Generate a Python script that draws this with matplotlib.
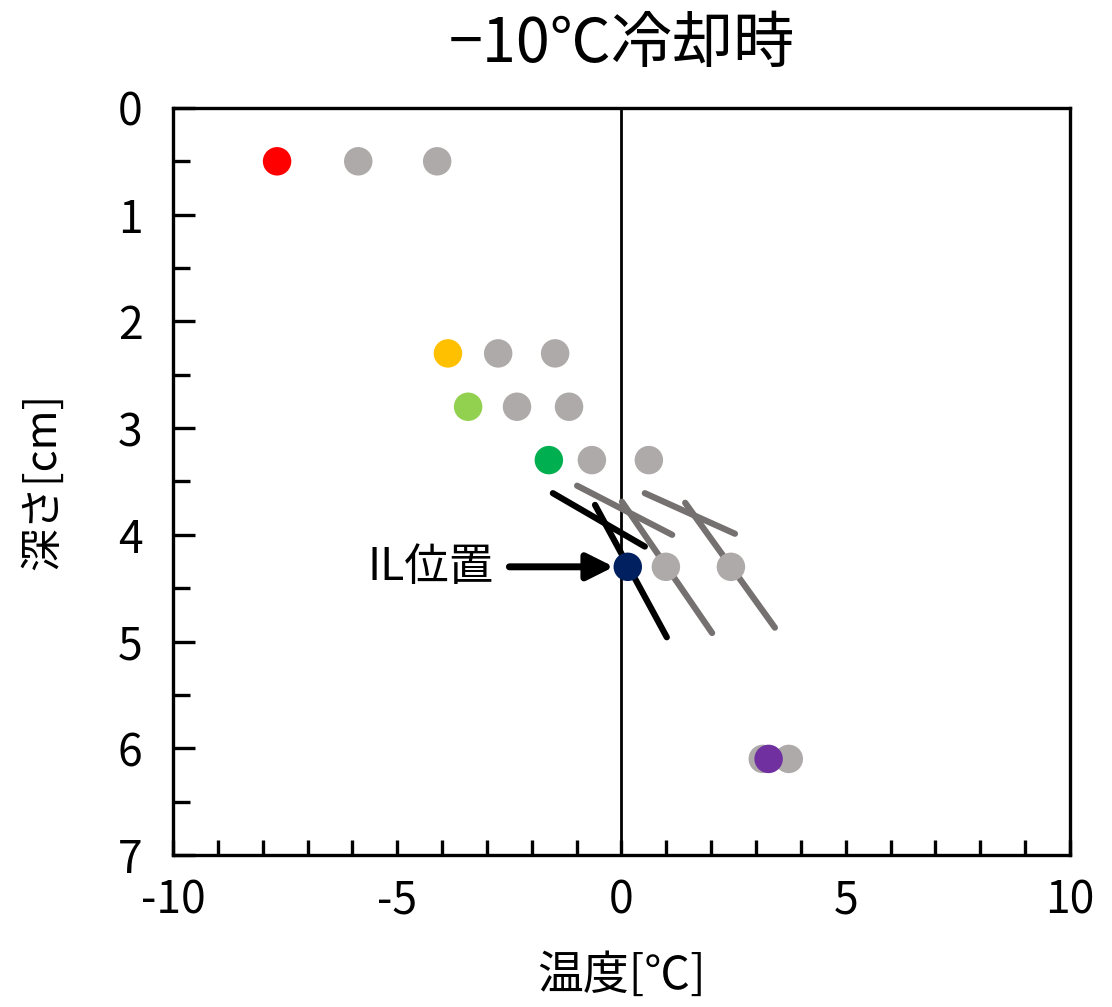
import numpy as np
import matplotlib.pyplot as plt
from matplotlib.ticker import MultipleLocator

plt.rcParams['font.family'] = ['Noto Sans CJK JP', 'DejaVu Sans']

# colored points (measured) and gray points (reference)
depth = [0.5, 2.3, 2.8, 3.3, 4.3, 6.1]
temp_main = [-7.68, -3.87, -3.42, -1.62, 0.14, 3.28]
colors = ['#FF0000', '#FFC000', '#92D050', '#00B050', '#002060', '#7030A0']

gray_x = [-5.87, -4.11, -2.75, -1.48, -2.33, -1.17, -0.66, 0.61, 0.99, 2.44, 3.15, 3.73]
gray_y = [0.5, 0.5, 2.3, 2.3, 2.8, 2.8, 3.3, 3.3, 4.3, 4.3, 6.1, 6.1]

# crossing line segments (x0, y0, x1, y1)
black_segs = [(-1.53, 3.61, 0.52, 4.11), (-0.59, 3.72, 1.01, 4.96)]
gray_segs = [(-0.99, 3.54, 1.13, 4.00), (0.01, 3.69, 2.02, 4.92),
             (0.52, 3.61, 2.53, 3.99), (1.42, 3.70, 3.42, 4.87)]

fig = plt.figure(figsize=(11.12, 10.07), dpi=100)
ax = fig.add_axes([0.1556, 0.151, 0.8066, 0.7418])

ax.axvline(0, color='black', lw=2, zorder=1)

for x0, y0, x1, y1 in gray_segs:
    ax.plot([x0, x1], [y0, y1], color='#767171', lw=4.5, solid_capstyle='round', zorder=2)
for x0, y0, x1, y1 in black_segs:
    ax.plot([x0, x1], [y0, y1], color='black', lw=4.5, solid_capstyle='round', zorder=2)

ax.scatter(gray_x, gray_y, s=420, color='#AEAAAA', edgecolors='none', zorder=3)
ax.scatter(temp_main, depth, s=420, c=colors, edgecolors='none', zorder=4)

ax.annotate('', xy=(-0.17, 4.3), xytext=(-2.5, 4.3),
            arrowprops=dict(arrowstyle='-|>,head_length=1.6,head_width=0.8',
                            color='black', lw=5, shrinkA=0, shrinkB=0))
ax.text(-2.85, 4.3, 'IL位置', fontsize=32, ha='right', va='center')

ax.set_xlim(-10, 10)
ax.set_ylim(7, 0)
ax.xaxis.set_major_locator(MultipleLocator(5))
ax.xaxis.set_minor_locator(MultipleLocator(1))
ax.yaxis.set_major_locator(MultipleLocator(1))
ax.yaxis.set_minor_locator(MultipleLocator(0.5))
ax.tick_params(which='both', direction='in', width=2.4, labelsize=32, top=False, right=False)
ax.tick_params(axis='y', which='major', length=16, pad=22)
ax.tick_params(axis='y', which='minor', length=12)
ax.tick_params(axis='x', which='both', length=11, pad=16)
ax.set_xticklabels([str(int(v)) for v in ax.get_xticks()])
for s in ax.spines.values():
    s.set_linewidth(2.4)

ax.set_xlabel('温度[℃]', fontsize=33, labelpad=20)
ax.set_ylabel('深さ[cm]', fontsize=31, labelpad=38)
ax.set_title('−10℃冷却時', fontsize=44, pad=33)

fig.savefig('out.png', dpi=100)
